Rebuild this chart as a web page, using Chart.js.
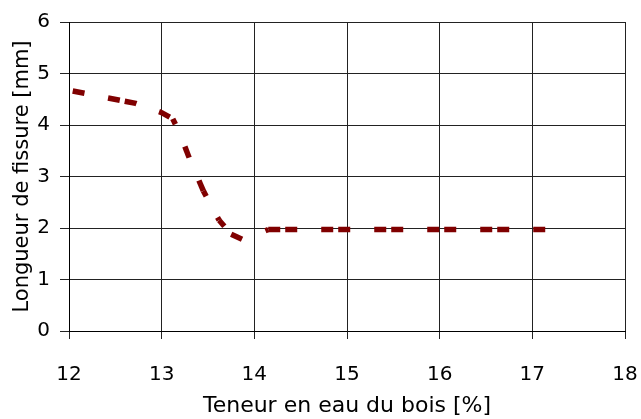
<!DOCTYPE html>
<html>
<head>
<meta charset="utf-8">
<script src="https://cdn.jsdelivr.net/npm/chart.js@4/dist/chart.umd.min.js"></script>
<style>
html,body{margin:0;padding:0;background:#fff;}
#wrap{width:641px;height:419px;position:relative;}
</style>
</head>
<body>
<div id="wrap"><canvas id="c" width="641" height="419"></canvas></div>
<script>
// Data
const moisture = [12.04, 12.72, 13.0, 13.12, 13.2, 13.3, 13.45, 13.62, 13.75, 13.88, 14.15, 17.15];
const crackLength = [4.66, 4.42, 4.24, 4.12, 3.82, 3.35, 2.72, 2.15, 1.88, 1.77, 1.97, 1.97];
const xTicks = [12, 13, 14, 15, 16, 17, 18];
const yTicks = [0, 1, 2, 3, 4, 5, 6];
const xTitle = 'Teneur en eau du bois [%]';
const yTitle = 'Longueur de fissure [mm]';

// Line style (dash phase per segment, mimicking how the original restarts its dash pattern)
const FONT = '"DejaVu Sans", sans-serif';
const DASH = [12, 5, 12, 24];
const segmentDashOffsets = [17, 17, 17, 23, 40, 29, 23, 21, 0, 29, 0];

const points = moisture.map((x, i) => ({x: x, y: crackLength[i]}));

new Chart(document.getElementById('c'), {
  type: 'line',
  data: {
    datasets: [{
      data: points,
      borderColor: '#800000',
      borderWidth: 5.5,
      borderDash: DASH,
      borderDashOffset: 17,
      borderCapStyle: 'butt',
      pointRadius: 0,
      fill: false,
      tension: 0,
      segment: {
        borderDashOffset: ctx => segmentDashOffsets[ctx.p0DataIndex]
      }
    }]
  },
  options: {
    responsive: false,
    animation: false,
    devicePixelRatio: 1,
    layout: {padding: {top: 22, right: 16, left: 0, bottom: 0}},
    plugins: {legend: {display: false}, tooltip: {enabled: false}},
    scales: {
      x: {
        type: 'linear',
        min: xTicks[0], max: xTicks[xTicks.length - 1],
        afterBuildTicks: s => { s.ticks = xTicks.map(v => ({value: v})); },
        afterFit: s => { s.height = 419 - 331; s.paddingLeft = 0; s.paddingRight = 0; },
        grid: {color: '#222', lineWidth: 1, tickLength: 8, drawTicks: true},
        border: {color: '#000', width: 1},
        ticks: {color: '#000', font: {family: FONT, size: 20}, padding: 24, maxRotation: 0},
        title: {display: true, text: xTitle, color: '#000', font: {family: FONT, size: 22}, padding: {top: 4, bottom: 0}}
      },
      y: {
        type: 'linear',
        min: yTicks[0], max: yTicks[yTicks.length - 1],
        afterBuildTicks: s => { s.ticks = yTicks.map(v => ({value: v})); },
        afterFit: s => { s.width = 69; s.paddingTop = 0; s.paddingBottom = 0; },
        grid: {color: '#222', lineWidth: 1, tickLength: 9, drawTicks: true},
        border: {color: '#000', width: 1},
        ticks: {color: '#000', font: {family: FONT, size: 20}, padding: 10},
        title: {display: true, text: yTitle, color: '#000', font: {family: FONT, size: 21}, padding: {top: 10, bottom: 0}}
      }
    }
  }
});
</script>
</body>
</html>
